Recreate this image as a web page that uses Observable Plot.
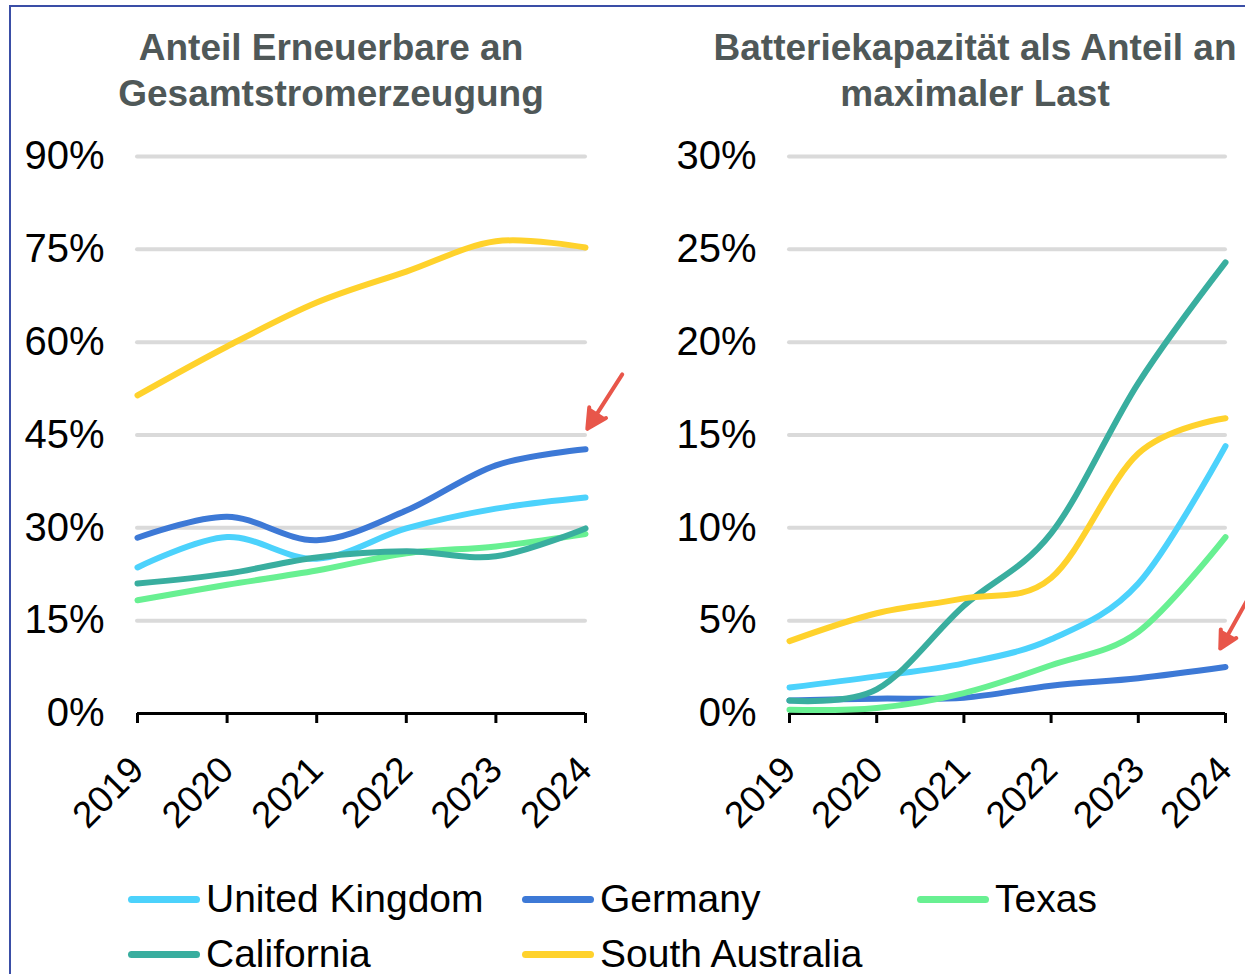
<!DOCTYPE html>
<html>
<head>
<meta charset="utf-8">
<script src="https://cdn.jsdelivr.net/npm/d3@7"></script>
<script src="https://cdn.jsdelivr.net/npm/@observablehq/plot@0.6"></script>
<style>
  html, body { margin: 0; padding: 0; background: #fff; }
  #page { position: relative; width: 1245px; height: 974px; overflow: hidden; font-family: "Liberation Sans", Arial, sans-serif; }
  #frame { position: absolute; left: 9px; top: 5px; width: 1300px; height: 1000px; border-top: 2.5px solid #3a4ea6; border-left: 2.5px solid #3a4ea6; }
  .title { position: absolute; transform: translateX(-50%); white-space: nowrap; text-align: center; font-weight: bold; font-size: 37px; line-height: 46px; color: #4f5858; }
  .panel { position: absolute; top: 130px; }
  .panel svg { overflow: visible; }
  .legend-item { position: absolute; display: flex; align-items: center; font-size: 39px; line-height: 34px; color: #000; white-space: nowrap; }
  .swatch { width: 72px; height: 7px; border-radius: 4px; margin-right: 6px; }
</style>
</head>
<body>
<div id="page">
  <div id="frame"></div>
  <div class="title" style="left:331px; top:25px;">Anteil Erneuerbare an<br>Gesamtstromerzeugung</div>
  <div class="title" style="left:975px; top:25px;">Batteriekapazität als Anteil an<br>maximaler Last</div>
  <div class="panel" id="left" style="left:0px;"></div>
  <div class="panel" id="right" style="left:620px;"></div>
  <div id="legend"></div>
</div>
<script>
// ---- data ----
const years = [2019, 2020, 2021, 2022, 2023, 2024];
const seriesNames = ["United Kingdom", "Germany", "Texas", "California", "South Australia"];
const seriesColors = ["#4cd2fc", "#3d79d6", "#68f092", "#39ae9f", "#ffd22c"];

// Anteil Erneuerbare an Gesamtstromerzeugung (%)
const renewUK = [23.6, 28.5, 25.0, 29.9, 33.1, 34.9];
const renewGermany = [28.4, 31.8, 28.0, 32.8, 40.1, 42.7];
const renewTexas = [18.3, 20.8, 23.1, 25.9, 27.0, 29.0];
const renewCalifornia = [21.0, 22.6, 25.2, 26.2, 25.4, 29.9];
const renewSouthAustralia = [51.4, 59.3, 66.4, 71.4, 76.3, 75.3];

// Batteriekapazität als Anteil an maximaler Last (%)
const battUK = [1.4, 2.0, 2.7, 4.0, 7.0, 14.4];
const battGermany = [0.7, 0.8, 0.85, 1.5, 1.9, 2.5];
const battTexas = [0.2, 0.3, 1.1, 2.6, 4.4, 9.5];
const battCalifornia = [0.7, 1.3, 5.8, 9.7, 17.8, 24.3];
const battSouthAustralia = [3.9, 5.4, 6.2, 7.3, 14.0, 15.9];

const leftTicks = [0, 15, 30, 45, 60, 75, 90];
const rightTicks = [0, 5, 10, 15, 20, 25, 30];

// red annotation arrows (data coordinates: year, percent)
const leftArrow = [{x1: 2024.41, y1: 54.8, x2: 2024.02, y2: 46.0}];
const rightArrow = [{x1: 2024.26, y1: 6.2, x2: 2023.94, y2: 3.5}];

// ---- build tables ----
function toRows(seriesArrays) {
  const rows = [];
  seriesArrays.forEach((vals, i) => {
    vals.forEach((v, j) => rows.push({series: seriesNames[i], year: years[j], value: v}));
  });
  return rows;
}
const leftRows = toRows([renewUK, renewGermany, renewTexas, renewCalifornia, renewSouthAustralia]);
const rightRows = toRows([battUK, battGermany, battTexas, battCalifornia, battSouthAustralia]);

function panel(rows, ticks, arrow, marginLeft, marginRight, width) {
  const grid = ticks.filter(t => t !== 0);
  return Plot.plot({
    width, height: 720,
    marginTop: 26, marginBottom: 137, marginLeft, marginRight,
    style: {fontFamily: "'Liberation Sans', Arial, sans-serif", fontSize: "37px", color: "#000", overflow: "visible", background: "transparent"},
    x: {domain: [2019, 2024], type: "linear"},
    y: {domain: [ticks[0], ticks[ticks.length - 1]]},
    color: {domain: seriesNames, range: seriesColors},
    marks: [
      Plot.ruleY(grid, {stroke: "#dadada", strokeWidth: 4, strokeLinecap: "round"}),
      Plot.axisY({ticks, tickSize: 0, tickPadding: 33, tickFormat: d => d + "%", label: null, fill: "#000", fontSize: 40}),
      Plot.axisX({ticks: years, tickFormat: d => String(d), tickRotate: -45, tickSize: 10, tickPadding: 40, strokeWidth: 3, stroke: "#000", label: null, fill: "#000"}),
      Plot.ruleY([ticks[0]], {stroke: "#000", strokeWidth: 3}),
      Plot.line(rows, {x: "year", y: "value", z: "series", stroke: "series", strokeWidth: 6, curve: "cardinal", tension: 0}),
      Plot.arrow(arrow, {x1: "x1", y1: "y1", x2: "x2", y2: "y2", stroke: "#e8564a", fill: "#e8564a", strokeWidth: 4, headLength: 24, headAngle: 55, strokeLinejoin: "miter"})
    ]
  });
}

const leftSvg = panel(leftRows, leftTicks, leftArrow, 137, 35, 620);
const rightSvg = panel(rightRows, rightTicks, rightArrow, 169, 20, 625);
document.getElementById("left").appendChild(leftSvg);
document.getElementById("right").appendChild(rightSvg);

// ---- legend ----
const legendPos = [[128, 899], [522, 899], [917, 899], [128, 954], [522, 954]];
const legend = document.getElementById("legend");
seriesNames.forEach((name, i) => {
  const item = document.createElement("div");
  item.className = "legend-item";
  item.style.left = legendPos[i][0] + "px";
  item.style.top = (legendPos[i][1] - 17) + "px";
  item.style.height = "34px";
  const sw = document.createElement("div");
  sw.className = "swatch";
  sw.style.background = seriesColors[i];
  const label = document.createElement("span");
  label.textContent = name;
  item.appendChild(sw);
  item.appendChild(label);
  legend.appendChild(item);
});
</script>
</body>
</html>
